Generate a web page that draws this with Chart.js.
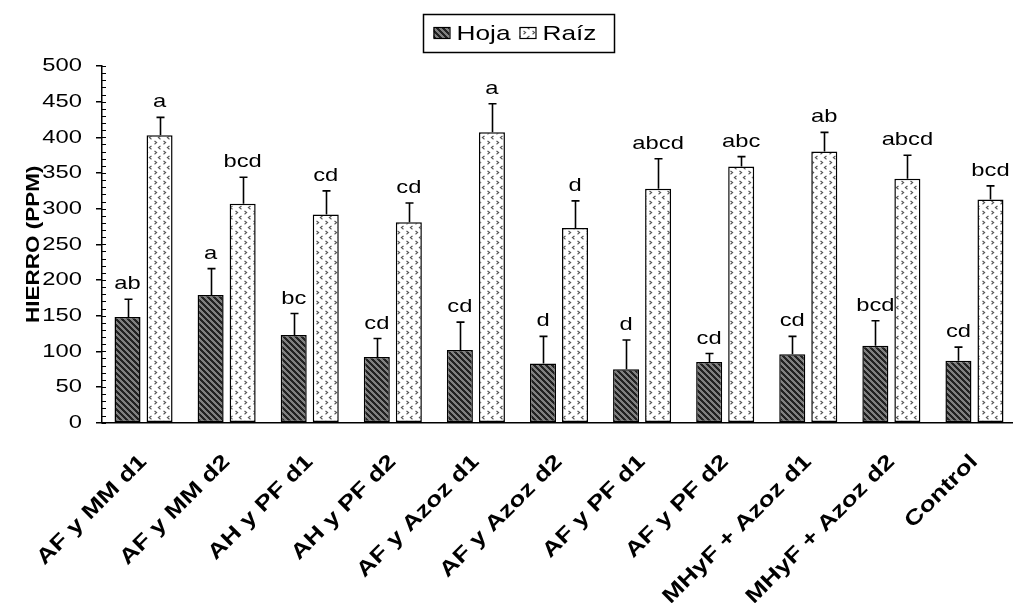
<!DOCTYPE html>
<html>
<head>
<meta charset="utf-8">
<script src="https://cdn.jsdelivr.net/npm/chart.js@4"></script>
<style>
  html, body { margin: 0; padding: 0; overflow: hidden; background: #fff; }
  canvas { display: block; }
</style>
</head>
<body>
<canvas id="c" width="1016" height="603"></canvas>
<script>
// Treatments on the category axis
const treatments = ['AF y MM d1', 'AF y MM d2', 'AH y PF d1', 'AH y PF d2', 'AF y Azoz d1',
  'AF y Azoz d2', 'AF y PF d1', 'AF y PF d2', 'MHyF + Azoz d1', 'MHyF + Azoz d2', 'Control'];

// Iron content in leaf (Hoja), ppm, with upper error and significance letters
const hojaValues  = [148, 179, 123, 92, 102, 83, 75, 85, 96, 108, 87];
const hojaErrors  = [25, 37, 30, 26, 39, 38, 41, 12, 25, 35, 19];
const hojaLetters = ['ab', 'a', 'bc', 'cd', 'cd', 'd', 'd', 'cd', 'cd', 'bcd', 'cd'];

// Iron content in root (Raíz), ppm
const raizValues  = [403, 307, 292, 281, 407, 273, 328, 359, 380, 342, 313];
const raizErrors  = [25, 37, 33, 27, 40, 38, 42, 14, 27, 33, 19];
const raizLetters = ['a', 'bcd', 'cd', 'cd', 'a', 'd', 'abcd', 'abc', 'ab', 'abcd', 'bcd'];

// Value axis
const yMin = 0, yMax = 500, yMajorStep = 50, yMinorStep = 10;

const errorSets = [hojaErrors, raizErrors];
const letterSets = [hojaLetters, raizLetters];

const FONT = "'Liberation Sans', Arial, sans-serif";

// All text in this chart is set in an expanded style: stretch glyphs along the text direction.
const TEXT_STRETCH = 1.25;
(function () {
  const proto = CanvasRenderingContext2D.prototype;
  const fill = proto.fillText;
  const measure = proto.measureText;
  proto.fillText = function (text, x, y) {
    this.save();
    this.translate(x, y);
    this.scale(TEXT_STRETCH, 1);
    fill.call(this, text, 0, 0);
    this.restore();
  };
  proto.measureText = function (text) {
    const m = measure.call(this, text);
    return {
      width: m.width * TEXT_STRETCH,
      actualBoundingBoxLeft: m.actualBoundingBoxLeft * TEXT_STRETCH,
      actualBoundingBoxRight: m.actualBoundingBoxRight * TEXT_STRETCH,
      actualBoundingBoxAscent: m.actualBoundingBoxAscent,
      actualBoundingBoxDescent: m.actualBoundingBoxDescent,
      fontBoundingBoxAscent: m.fontBoundingBoxAscent,
      fontBoundingBoxDescent: m.fontBoundingBoxDescent
    };
  };
})();

const canvas = document.getElementById('c');
const mainCtx = canvas.getContext('2d');

// Dark diagonal hatch for the leaf bars
function stripePattern() {
  const n = 6;
  const c = document.createElement('canvas');
  c.width = n; c.height = n;
  const g = c.getContext('2d');
  const img = g.createImageData(n, n);
  for (let y = 0; y < n; y++) {
    for (let x = 0; x < n; x++) {
      const dark = ((x - y + 2 * n) % n) < 3;
      const v = dark ? 0x22 : 0x80;
      const i = (y * n + x) * 4;
      img.data[i] = v; img.data[i + 1] = v; img.data[i + 2] = v; img.data[i + 3] = 255;
    }
  }
  g.putImageData(img, 0, 0);
  return mainCtx.createPattern(c, 'repeat');
}

// Light fill with small chevrons for the root bars
function divotPattern() {
  const w = 9, h = 10;
  const c = document.createElement('canvas');
  c.width = w; c.height = h;
  const g = c.getContext('2d');
  g.fillStyle = '#fff';
  g.fillRect(0, 0, w, h);
  g.strokeStyle = '#555';
  g.lineWidth = 1.1;
  g.beginPath(); g.moveTo(1.5, 1); g.lineTo(3.6, 2.6); g.lineTo(1.5, 4.2); g.stroke();
  g.beginPath(); g.moveTo(7.5, 6); g.lineTo(5.4, 7.6); g.lineTo(7.5, 9.2); g.stroke();
  return mainCtx.createPattern(c, 'repeat');
}

// Short inner ticks every minor step along the value axis
const minorTicks = {
  id: 'minorTicks',
  afterDraw(chart) {
    const ctx = chart.ctx;
    const y = chart.scales.y;
    const x0 = chart.chartArea.left;
    ctx.save();
    ctx.strokeStyle = '#000';
    ctx.lineWidth = 1.2;
    ctx.beginPath();
    for (let v = y.min; v <= y.max + 1e-9; v += yMinorStep) {
      const py = Math.round(y.getPixelForValue(v)) + 0.5;
      ctx.moveTo(x0, py);
      ctx.lineTo(x0 + 4, py);
    }
    ctx.stroke();
    ctx.restore();
  }
};

// Upper error bars and significance letters above each bar
const errorBars = {
  id: 'errorBars',
  afterDatasetsDraw(chart) {
    const ctx = chart.ctx;
    const yScale = chart.scales.y;
    ctx.save();
    chart.data.datasets.forEach((ds, di) => {
      const meta = chart.getDatasetMeta(di);
      meta.data.forEach((bar, i) => {
        const topVal = ds.data[i] + errorSets[di][i];
        const yTop = yScale.getPixelForValue(topVal);
        const x = Math.round(bar.x) + 0.5;
        ctx.strokeStyle = '#000';
        ctx.lineWidth = 1.6;
        ctx.beginPath();
        ctx.moveTo(x, bar.y);
        ctx.lineTo(x, yTop);
        ctx.moveTo(x - 4, yTop);
        ctx.lineTo(x + 4, yTop);
        ctx.stroke();
        ctx.fillStyle = '#000';
        ctx.font = '19px ' + FONT;
        ctx.textAlign = 'center';
        ctx.textBaseline = 'alphabetic';
        ctx.fillText(letterSets[di][i], bar.x, yTop - 10);
      });
    });
    ctx.restore();
  }
};

// Legend with a frame at the top of the chart
const boxedLegend = {
  id: 'boxedLegend',
  afterDraw(chart) {
    const ctx = chart.ctx;
    const boxL = 423.5, boxT = 14.5, boxW = 191, boxH = 38;
    ctx.save();
    ctx.strokeStyle = '#000';
    ctx.lineWidth = 1.5;
    ctx.strokeRect(boxL, boxT, boxW, boxH);
    ctx.font = '21px ' + FONT;
    ctx.textAlign = 'left';
    ctx.textBaseline = 'alphabetic';
    let x = boxL + 10;
    chart.data.datasets.forEach((ds) => {
      ctx.fillStyle = ds.backgroundColor;
      ctx.fillRect(x, 27, 16, 11);
      ctx.lineWidth = 1.2;
      ctx.strokeRect(x + 0.5, 27.5, 16, 11);
      x += 16 + 7;
      ctx.fillStyle = '#000';
      ctx.fillText(ds.label, x, 40);
      x += ctx.measureText(ds.label).width + 9;
    });
    ctx.restore();
  }
};

new Chart(canvas, {
  type: 'bar',
  data: {
    labels: treatments,
    datasets: [
      {
        label: 'Hoja',
        data: hojaValues,
        backgroundColor: stripePattern(),
        borderColor: '#000',
        borderWidth: 1.5,
        borderSkipped: false,
        categoryPercentage: 0.771,
        barPercentage: 0.8125
      },
      {
        label: 'Raíz',
        data: raizValues,
        backgroundColor: divotPattern(),
        borderColor: '#000',
        borderWidth: 1.5,
        borderSkipped: false,
        categoryPercentage: 0.771,
        barPercentage: 0.8125
      }
    ]
  },
  options: {
    responsive: false,
    animation: false,
    devicePixelRatio: 1,
    layout: { padding: { left: 19, top: 66, right: 0, bottom: 0 } },
    plugins: {
      legend: { display: false },
      tooltip: { enabled: false }
    },
    scales: {
      x: {
        // invisible tick marks keep the slanted labels clear of the axis line
        grid: { display: true, drawOnChartArea: false, drawTicks: true, tickLength: 27, color: 'rgba(0,0,0,0)' },
        border: { display: true, color: '#000', width: 1.5 },
        ticks: {
          autoSkip: false,
          minRotation: 45,
          maxRotation: 45,
          padding: 0,
          color: '#000',
          font: { family: FONT, size: 21, weight: 'bold' }
        },
        afterFit(scale) { scale.height = 180.3; }
      },
      y: {
        min: yMin,
        max: yMax,
        ticks: {
          stepSize: yMajorStep,
          padding: 14,
          color: '#000',
          font: { family: FONT, size: 19 }
        },
        grid: {
          drawOnChartArea: false,
          drawTicks: true,
          tickLength: 6,
          color: '#000',
          lineWidth: 1.5
        },
        border: { display: true, color: '#000', width: 1.5 },
        title: {
          display: true,
          text: 'HIERRO (PPM)',
          color: '#000',
          font: { family: FONT, size: 18, weight: 'bold' },
          padding: { top: 4, bottom: 4 }
        },
        afterFit(scale) { scale.width = 83; }
      }
    }
  },
  plugins: [minorTicks, errorBars, boxedLegend]
});
</script>
</body>
</html>
